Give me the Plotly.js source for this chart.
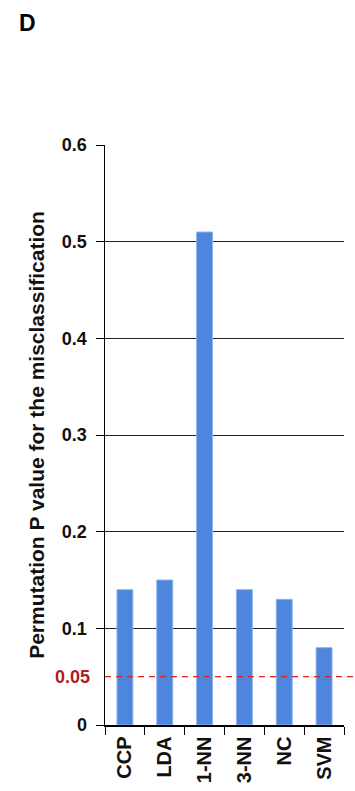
<!DOCTYPE html>
<html><head><meta charset="utf-8">
<script src="https://cdn.plot.ly/plotly-3.0.1.min.js"></script>
<style>html,body{margin:0;padding:0;background:#fff;}#chart{width:355px;height:791px;}</style>
</head><body><div id="chart"></div>
<script>
const categories = ["CCP", "LDA", "1-NN", "3-NN", "NC", "SVM"];
const pValues = [0.14, 0.15, 0.51, 0.14, 0.13, 0.08];
const yTickVals = [0, 0.1, 0.2, 0.3, 0.4, 0.5, 0.6];
const yTickText = ["0", "0.1", "0.2", "0.3", "0.4", "0.5", "0.6"];
const threshold = 0.05;
const thresholdLabel = "0.05";

const font = "Liberation Sans, Arial, Helvetica, sans-serif";

const trace = {
  type: "bar",
  x: categories,
  y: pValues,
  marker: {color: "#4f86dd", line: {color: "#8db4ee", width: 1}},
  hoverinfo: "x+y"
};

const layout = {
  width: 355, height: 791,
  margin: {l: 105, r: 11, t: 145, b: 66},
  paper_bgcolor: "#fff", plot_bgcolor: "#fff",
  showlegend: false,
  bargap: 0.6,
  font: {family: font, color: "#000"},
  xaxis: {
    type: "category",
    tickangle: -90,
    tickfont: {family: font, size: 20, weight: "bold", color: "#111"},
    showline: true, linecolor: "#000", linewidth: 1.5,
    ticks: "outside", ticklen: 8, tickcolor: "#000",
    tickson: "boundaries",
    showgrid: false, zeroline: false,
    ticklabelstandoff: 2
  },
  yaxis: {
    range: [0, 0.6],
    tickvals: yTickVals, ticktext: yTickText,
    tickfont: {family: font, size: 18, weight: "bold", color: "#111"},
    showline: true, linecolor: "#000", linewidth: 1.5,
    ticks: "outside", ticklen: 8, tickcolor: "#000",
    showgrid: true, gridcolor: "#222", gridwidth: 1,
    zeroline: false,
    ticklabelstandoff: 5,
    title: {text: "Permutation P value for the misclassification",
            font: {family: font, size: 21, weight: "bold", color: "#111"},
            standoff: 11}
  },
  shapes: [{
    type: "line", xref: "paper", yref: "y",
    x0: 0, x1: 1.05, y0: threshold, y1: threshold,
    line: {color: "#e0201b", width: 1.3, dash: "6px,5px"}
  }],
  annotations: [
    {xref: "paper", yref: "y", x: 0, y: threshold, xanchor: "right", yanchor: "middle",
     xshift: -13, text: thresholdLabel, showarrow: false,
     font: {family: font, size: 18, weight: "bold", color: "#b01c22"}},
    {xref: "paper", yref: "paper", x: -0.37, y: 1.211, xanchor: "left", yanchor: "middle",
     text: "D", showarrow: false,
     font: {family: font, size: 23, weight: "bold", color: "#000"}}
  ]
};

Plotly.newPlot("chart", [trace], layout, {displayModeBar: false, staticPlot: true});
</script>
</body></html>
